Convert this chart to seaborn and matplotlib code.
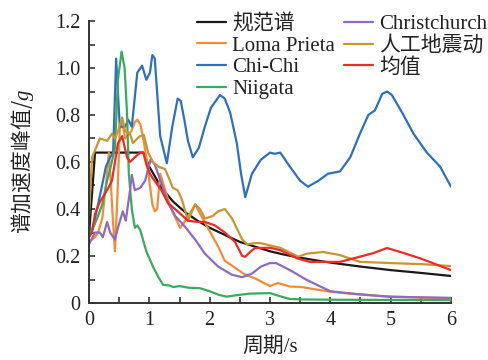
import numpy as np
import pandas as pd
import matplotlib
matplotlib.use("Agg")
import matplotlib.pyplot as plt
from matplotlib.ticker import MultipleLocator
import seaborn as sns

# Response spectra: period T (s) and spectral acceleration (g)
code_T = [0, 0.1, 0.9, 1.0, 1.2, 1.4, 1.6, 1.8, 2.0, 2.25, 2.5, 2.75, 3.0, 3.25,
          3.5, 3.75, 4.0, 4.5, 5.0, 5.5, 6.0]
code_v = [0.29, 0.64, 0.64, 0.58, 0.49, 0.43, 0.385, 0.35, 0.32, 0.29, 0.26, 0.24,
          0.22, 0.205, 0.193, 0.182, 0.172, 0.155, 0.14, 0.128, 0.115]

loma_T = [0, 0.1, 0.15, 0.22, 0.28, 0.33, 0.36, 0.39, 0.43, 0.47, 0.51, 0.55, 0.6,
          0.65, 0.7, 0.76, 0.8, 0.85, 0.9, 0.95, 1.0, 1.05, 1.09, 1.13, 1.18, 1.24,
          1.31, 1.4, 1.51, 1.57, 1.62, 1.67, 1.76, 1.84, 1.97, 2.14, 2.25, 2.42,
          2.59, 2.75, 2.9, 3.0, 3.13, 3.33, 3.53, 3.75, 4.0, 4.4, 4.83, 5.4, 6.0]
loma_v = [0.26, 0.28, 0.30, 0.36, 0.50, 0.64, 0.52, 0.38, 0.22, 0.45, 0.74, 0.77,
          0.70, 0.72, 0.73, 0.77, 0.78, 0.76, 0.70, 0.62, 0.52, 0.42, 0.39, 0.40,
          0.55, 0.50, 0.44, 0.38, 0.32, 0.34, 0.36, 0.38, 0.42, 0.38, 0.32, 0.24,
          0.18, 0.15, 0.12, 0.105, 0.085, 0.072, 0.085, 0.07, 0.068, 0.058, 0.048,
          0.038, 0.03, 0.024, 0.02]

chichi_T = [0, 0.05, 0.1, 0.15, 0.2, 0.28, 0.35, 0.4, 0.45, 0.51, 0.6, 0.65, 0.71,
            0.8, 0.88, 0.95, 1.01, 1.05, 1.09, 1.18, 1.29, 1.38, 1.47, 1.52, 1.58,
            1.64, 1.72, 1.82, 1.92, 2.02, 2.17, 2.25, 2.34, 2.45, 2.52, 2.59, 2.7,
            2.85, 3.0, 3.08, 3.17, 3.33, 3.5, 3.63, 3.8, 3.96, 4.16, 4.33, 4.49,
            4.63, 4.74, 4.86, 4.94, 5.02, 5.19, 5.38, 5.6, 5.82, 6.0]
chichi_v = [0.32, 0.31, 0.36, 0.42, 0.48, 0.58, 0.62, 0.64, 1.04, 0.75, 0.75, 0.78,
            0.75, 0.98, 1.01, 0.95, 0.98, 1.055, 1.04, 0.71, 0.595, 0.75, 0.87,
            0.86, 0.78, 0.69, 0.62, 0.66, 0.75, 0.83, 0.885, 0.87, 0.81, 0.68,
            0.55, 0.45, 0.55, 0.61, 0.64, 0.635, 0.64, 0.58, 0.52, 0.495, 0.52,
            0.55, 0.56, 0.62, 0.72, 0.80, 0.82, 0.89, 0.90, 0.885, 0.81, 0.72,
            0.64, 0.58, 0.495]

niigata_T = [0, 0.07, 0.15, 0.22, 0.3, 0.36, 0.43, 0.48, 0.54, 0.59, 0.63, 0.66,
             0.71, 0.76, 0.8, 0.85, 0.95, 1.06, 1.15, 1.23, 1.32, 1.4, 1.5, 1.65,
             1.84, 2.0, 2.15, 2.28, 2.5, 2.67, 3.0, 3.15, 3.33, 3.6, 4.0, 5.0, 6.0]
niigata_v = [0.29, 0.32, 0.37, 0.42, 0.52, 0.58, 0.66, 0.95, 1.07, 1.0, 0.81, 0.55,
             0.40, 0.32, 0.33, 0.31, 0.22, 0.155, 0.11, 0.077, 0.075, 0.068, 0.072,
             0.065, 0.063, 0.05, 0.035, 0.027, 0.035, 0.04, 0.042, 0.03, 0.017,
             0.015, 0.014, 0.013, 0.012]

christ_T = [0, 0.1, 0.18, 0.23, 0.3, 0.35, 0.43, 0.48, 0.56, 0.61, 0.68, 0.71, 0.76,
            0.85, 0.93, 0.98, 1.02, 1.09, 1.2, 1.31, 1.43, 1.59, 1.76, 1.92, 2.14,
            2.37, 2.54, 2.7, 2.85, 3.0, 3.1, 3.33, 3.61, 4.0, 4.44, 5.0, 6.0]
christ_v = [0.25, 0.30, 0.30, 0.28, 0.345, 0.30, 0.27, 0.32, 0.39, 0.35, 0.48, 0.545,
            0.48, 0.49, 0.52, 0.57, 0.61, 0.59, 0.51, 0.425, 0.37, 0.325, 0.27,
            0.21, 0.155, 0.12, 0.11, 0.125, 0.155, 0.17, 0.17, 0.14, 0.098, 0.05,
            0.038, 0.026, 0.022]

artif_T = [0, 0.05, 0.1, 0.18, 0.3, 0.38, 0.43, 0.48, 0.55, 0.6, 0.68, 0.73, 0.8,
           0.85, 0.91, 0.98, 1.06, 1.15, 1.26, 1.31, 1.39, 1.47, 1.54, 1.64, 1.76,
           1.84, 1.92, 2.05, 2.14, 2.25, 2.37, 2.54, 2.62, 2.75, 2.84, 3.0, 3.17,
           3.47, 3.61, 3.88, 4.16, 4.49, 4.99, 5.54, 6.0]
artif_v = [0.37, 0.62, 0.65, 0.70, 0.69, 0.72, 0.70, 0.73, 0.79, 0.73, 0.72, 0.68,
           0.70, 0.71, 0.715, 0.64, 0.60, 0.58, 0.57, 0.54, 0.49, 0.48, 0.44, 0.35,
           0.42, 0.40, 0.36, 0.37, 0.39, 0.40, 0.36, 0.27, 0.25, 0.255, 0.255,
           0.245, 0.235, 0.197, 0.21, 0.217, 0.204, 0.175, 0.17, 0.165, 0.157]

mean_T = [0, 0.05, 0.1, 0.18, 0.3, 0.38, 0.48, 0.55, 0.63, 0.68, 0.76, 0.85, 0.9,
          0.95, 1.01, 1.06, 1.2, 1.31, 1.47, 1.64, 1.8, 1.92, 2.09, 2.25, 2.42,
          2.54, 2.59, 2.67, 2.75, 3.0, 3.17, 3.45, 3.66, 4.16, 4.49, 4.71, 4.94,
          5.16, 5.49, 6.0]
mean_v = [0.28, 0.30, 0.38, 0.43, 0.48, 0.52, 0.68, 0.71, 0.62, 0.60, 0.62, 0.64,
          0.64, 0.59, 0.55, 0.53, 0.48, 0.425, 0.39, 0.35, 0.345, 0.345, 0.33,
          0.30, 0.26, 0.2, 0.197, 0.217, 0.234, 0.235, 0.225, 0.19, 0.175, 0.175,
          0.197, 0.212, 0.234, 0.217, 0.19, 0.14]

names = ["规范谱", "Loma Prieta", "Chi-Chi", "Niigata", "Christchurch", "人工地震动", "均值"]
colors = ["#1a1a1a", "#F28C35", "#2F6FC1", "#3AAA5E", "#8C6BC0", "#C99532", "#EE2B26"]
periods = [code_T, loma_T, chichi_T, niigata_T, christ_T, artif_T, mean_T]
values = [code_v, loma_v, chichi_v, niigata_v, christ_v, artif_v, mean_v]

df = pd.concat(
    [pd.DataFrame({"T": t, "Sa": v, "series": n}) for t, v, n in zip(periods, values, names)],
    ignore_index=True,
)

sns.set_theme(style="ticks")
plt.rcParams["font.family"] = ["Liberation Serif", "Noto Sans CJK SC"]
# mathtext: upright CJK text plus an italic serif "g" in the y label
plt.rcParams["mathtext.fontset"] = "custom"
plt.rcParams["mathtext.rm"] = "Noto Sans CJK SC"
plt.rcParams["mathtext.it"] = "Liberation Serif:italic"

fig = plt.figure(figsize=(4.89, 3.6), dpi=100)
ax = fig.add_axes([89 / 489, 1 - 303 / 360, (451 - 89) / 489, (303 - 21) / 360])

sns.lineplot(data=df, x="T", y="Sa", hue="series", hue_order=names,
             palette=dict(zip(names, colors)), estimator=None, sort=False,
             linewidth=1.6, ax=ax)

ax.set_xlim(0, 6)
ax.set_ylim(0, 1.2)
ax.xaxis.set_major_locator(MultipleLocator(1))
ax.xaxis.set_minor_locator(MultipleLocator(0.5))
ax.yaxis.set_minor_locator(MultipleLocator(0.1))
ax.set_yticks([0, 0.2, 0.4, 0.6, 0.8, 1.0, 1.2])
ax.set_yticklabels(["0", "0.2", "0.4", "0.6", "0.8", "1.0", "1.2"])
ax.tick_params(which="both", direction="in", length=4, width=1.2, colors="#333333",
               labelsize=14.5, labelcolor="#222222", pad=6)
for side in ["top", "right"]:
    ax.spines[side].set_visible(False)
for side in ["left", "bottom"]:
    ax.spines[side].set_linewidth(1.4)
    ax.spines[side].set_color("#333333")

ax.set_xlabel("周期/s", fontsize=15, color="#222222", labelpad=5)
ax.set_ylabel(r"$\mathrm{谱加速度峰值/}\mathit{g}$", fontsize=15, color="#222222",
              labelpad=14)

handles, labels = ax.get_legend_handles_labels()
leg = ax.legend(handles, labels, ncol=2, frameon=False, fontsize=15,
                loc="upper left", bbox_to_anchor=(197 / 489, 1 - 14 / 360),
                bbox_transform=fig.transFigure, handlelength=1.4,
                handletextpad=0.3, columnspacing=0.4, labelspacing=0.1,
                borderaxespad=0, borderpad=0)
for t in leg.get_texts():
    t.set_color("#222222")

fig.savefig("out.png", dpi=100)
